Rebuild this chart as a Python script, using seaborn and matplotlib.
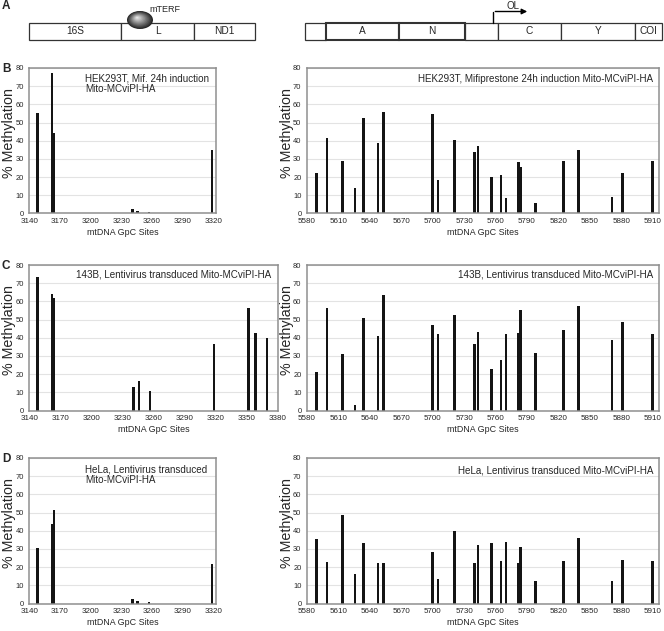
import numpy as np
import pandas as pd
import matplotlib
matplotlib.use('Agg')
import matplotlib.pyplot as plt
from matplotlib.patches import Rectangle, Ellipse
import seaborn as sns

#formatting
sns.set_style('white')
plt.rcParams['font.family'] = ['Liberation Sans', 'DejaVu Sans']

# GpC sites (x)
left_sites = [3148, 3162, 3164, 3241, 3246, 3257, 3319]
left_sites_143b = [3148, 3162, 3164, 3241, 3246, 3257, 3319, 3352, 3359, 3370]
right_sites = [5589, 5599, 5614, 5626, 5634, 5648, 5653, 5700, 5705, 5721, 5740, 5743,
               5756, 5765, 5770, 5782, 5784, 5798, 5825, 5839, 5871, 5881, 5910]

# % methylation
hek_left = [55, 77.5, 44, 2.5, 1.5, 1, 35]
hek_right = [22.5, 41.5, 29, 14, 52.5, 38.5, 56, 54.5, 18.5, 40.5, 34, 37,
             20, 21, 8.5, 28.5, 25.5, 6, 29, 35, 9, 22, 29]
b143_left = [73.5, 64, 62, 13, 16, 10.5, 36.5, 56.5, 42.5, 40]
b143_right = [21, 56.5, 31, 3, 51, 41, 63.5, 47, 42, 52.5, 36.5, 43,
              23, 27.5, 42, 42.5, 55, 31.5, 44.5, 57.5, 39, 48.5, 42]
hela_left = [30.5, 43.5, 51.5, 2.5, 1.5, 1, 21.5]
hela_right = [35.5, 23, 48.5, 16, 33.5, 22.5, 22, 28.5, 13.5, 40, 22.5, 32,
              33.5, 23.5, 34, 22, 31, 12.5, 23.5, 36, 12.5, 24, 23.5]

# gene map for panel A
left_genes = ['16S', 'L', 'ND1']
left_gene_edges = [29, 121, 194, 255]
right_genes = ['', 'A', 'N', '', 'C', 'Y', 'COI']
right_gene_edges = [305, 326, 399, 465, 498, 561, 635, 662]

W, H = 664, 631
fig = plt.figure(figsize=(W / 100, H / 100), dpi=100)


def px_rect(x0, x1, top, bottom):
    return [x0 / W, 1 - bottom / H, (x1 - x0) / W, (bottom - top) / H]


# ---- panel A: gene map
ax0 = fig.add_axes([0, 1 - 50 / H, 1, 50 / H])
ax0.set_xlim(0, W)
ax0.set_ylim(50, 0)
ax0.axis('off')
box_top, box_h = 22.5, 17

for edges, names in [(left_gene_edges, left_genes), (right_gene_edges, right_genes)]:
    for i, name in enumerate(names):
        lw = 1.5 if name in ('A', 'N') else 0.9
        ax0.add_patch(Rectangle((edges[i], box_top), edges[i + 1] - edges[i], box_h,
                                facecolor='white', edgecolor='#333333', lw=lw))
        ax0.text((edges[i] + edges[i + 1]) / 2, box_top + box_h / 2 + 0.5, name,
                 ha='center', va='center', fontsize=7.3)

# mTERF sphere (shaded)
n = 12
for i in range(n):
    s = 1 - i / n
    g = 0.15 + 0.75 * (i / (n - 1))
    ax0.add_patch(Ellipse((140 - 3 * (1 - s), 20 - 2.5 * (1 - s)), 26 * s, 18 * s,
                          facecolor=(g, g, g), edgecolor='none'))
ax0.text(149, 9, 'mTERF', fontsize=6.5, va='center', ha='left')

# OL arrow
ax0.plot([493, 493], [box_top, 11.5], color='black', lw=1)
ax0.annotate('', xy=(530, 11.5), xytext=(492.5, 11.5),
             arrowprops=dict(arrowstyle='-|>', lw=1, color='black', mutation_scale=8))
ax0.text(513, 6, 'OL', fontsize=7, ha='center', va='center')
fig.text(2 / W, 1 - 6 / H, 'A', fontsize=8.5, fontweight='bold', va='center')


def draw_panel(rect_px, sites, values, xlim, xticks, note, note_x, note_y, ha):
    x0, x1, top, bottom = rect_px
    ax = fig.add_axes(px_rect(x0, x1, top, bottom))
    df = pd.DataFrame({'site': sites, 'meth': values})
    gap = np.min(np.diff(sorted(sites)))
    bar_units = 2.4
    sns.barplot(data=df, x='site', y='meth', native_scale=True, orient='v',
                width=bar_units / gap, color='#141414', saturation=1,
                errorbar=None, linewidth=0, ax=ax)
    ax.set_xlim(*xlim)
    ax.set_ylim(0, 80)
    ax.set_xticks(xticks)
    ax.set_xticklabels([str(t) for t in xticks])
    ax.set_yticks(range(0, 81, 10))
    ax.tick_params(axis='x', labelsize=5.8, length=0, pad=3)
    ax.tick_params(axis='y', labelsize=5.4, length=0, pad=4)
    ax.yaxis.grid(True, color='#e3e3e3', lw=0.8)
    ax.set_axisbelow(True)
    for sp in ax.spines.values():
        sp.set_color('#8f8f8f')
        sp.set_linewidth(1.1)
    ax.set_xlabel('mtDNA GpC Sites', fontsize=6.4, labelpad=2.5)
    ax.set_ylabel('% Methylation', fontsize=10.3)
    ax.yaxis.set_label_coords(-13 / (x1 - x0), 0.55)
    ax.text(note_x, note_y, note, transform=ax.transAxes, ha=ha, va='center',
            fontsize=7.1, linespacing=1.1)
    return ax


left_ticks = list(range(3140, 3321, 30))
left_ticks_c = list(range(3140, 3381, 30))
right_ticks = list(range(5580, 5911, 30))

rows = [(68.0, 213.5, 'B'), (265.0, 410.5, 'C'), (458.0, 603.5, 'D')]

# B
top, bottom, _ = rows[0]
draw_panel((29.3, 215.7, top, bottom), left_sites, hek_left, (3140, 3322.5), left_ticks,
           'HEK293T, Mif. 24h induction\nMito-MCviPI-HA', 0.3, 0.89, 'left')
draw_panel((307, 659, top, bottom), right_sites, hek_right, (5580, 5916), right_ticks,
           'HEK293T, Mifiprestone 24h induction Mito-MCviPI-HA', 0.983, 0.927, 'right')

# C
top, bottom, _ = rows[1]
draw_panel((29.3, 278.3, top, bottom), left_sites_143b, b143_left, (3140, 3381), left_ticks_c,
           '143B, Lentivirus transduced Mito-MCviPI-HA', 0.973, 0.932, 'right')
draw_panel((307, 659, top, bottom), right_sites, b143_right, (5580, 5916), right_ticks,
           '143B, Lentivirus transduced Mito-MCviPI-HA', 0.983, 0.932, 'right')

# D
top, bottom, _ = rows[2]
draw_panel((29.3, 215.7, top, bottom), left_sites, hela_left, (3140, 3322.5), left_ticks,
           'HeLa, Lentivirus transduced\nMito-MCviPI-HA', 0.3, 0.886, 'left')
draw_panel((307, 659, top, bottom), right_sites, hela_right, (5580, 5916), right_ticks,
           'HeLa, Lentivirus transduced Mito-MCviPI-HA', 0.983, 0.917, 'right')

for top, bottom, letter in rows:
    fig.text(2 / W, 1 - (top + 1) / H, letter, fontsize=8.5, fontweight='bold', va='center')

fig.savefig('out.png', dpi=100)
